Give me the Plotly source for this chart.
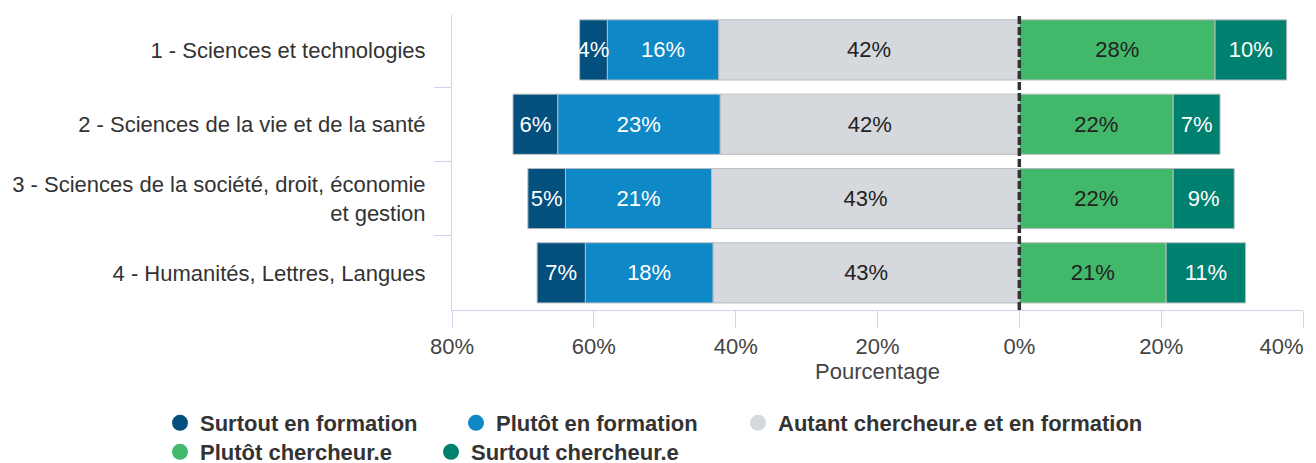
import plotly.graph_objects as go

categories = [
    "1 - Sciences et technologies",
    "2 - Sciences de la vie et de la santé",
    "3 - Sciences de la société, droit, économie<br>et gestion",
    "4 - Humanités, Lettres, Langues",
]
surtout_formation = [3.9, 6.3, 5.3, 6.8]
plutot_formation = [15.7, 22.9, 20.6, 18.0]
autant = [42.4, 42.2, 43.4, 43.2]
plutot_chercheur = [27.6, 21.7, 21.7, 20.7]
surtout_chercheur = [10.1, 6.6, 8.6, 11.2]

tick_vals = [-80, -60, -40, -20, 0, 20, 40]
tick_text = ["80%", "60%", "40%", "20%", "0%", "20%", "40%"]

names = ["Surtout en formation", "Plutôt en formation",
         "Autant chercheur.e et en formation", "Plutôt chercheur.e", "Surtout chercheur.e"]
colors = ["#034f7d", "#0f88c8", "#d5d9dd", "#42b86b", "#00806f"]
text_colors = ["#ffffff", "#ffffff", "#222222", "#222222", "#ffffff"]

FONT = "Liberation Sans, Arial, sans-serif"
W, H = 1316, 463

series = [
    (2, autant, -1),
    (1, plutot_formation, -1),
    (0, surtout_formation, -1),
    (3, plutot_chercheur, 1),
    (4, surtout_chercheur, 1),
]

fig = go.Figure()
for idx, vals, sign in series:
    fig.add_trace(go.Bar(
        y=categories,
        x=[sign * v for v in vals],
        orientation="h",
        name=names[idx],
        marker=dict(color=colors[idx], line=dict(color="#b8bcc0", width=1)),
        text=[f"{round(v)}%" for v in vals],
        textposition="inside",
        insidetextanchor="middle",
        textangle=0,
        textfont=dict(family=FONT, size=22, color=text_colors[idx]),
        showlegend=False,
        hoverinfo="skip",
    ))

# one legend per entry so spacing follows the reference
legend_ids = ["legend", "legend2", "legend3", "legend4", "legend5"]
legend_pos = [(160, 402), (456, 402), (738, 402), (160, 431), (431, 431)]
for i in range(5):
    fig.add_trace(go.Scatter(
        x=[None], y=[None], mode="markers", name=names[i],
        marker=dict(color=colors[i], size=16, symbol="circle"),
        legend=legend_ids[i],
    ))

fig.add_shape(type="line", xref="x", yref="paper", x0=0, x1=0, y0=0, y1=1,
              line=dict(color="#333333", width=3.5, dash="8px,3px"), layer="above")

legend_font = dict(family=FONT, size=22, color="#333333", weight="bold")
legends = {}
for lid, (lx, ly) in zip(legend_ids, legend_pos):
    legends[lid] = dict(
        orientation="h",
        xref="container", yref="container",
        x=lx / W, xanchor="left",
        y=1 - ly / H, yanchor="top",
        font=legend_font,
        itemwidth=30,
        bgcolor="rgba(0,0,0,0)",
    )

fig.update_layout(
    width=W, height=H,
    barmode="relative",
    bargap=0.19,
    plot_bgcolor="white",
    paper_bgcolor="white",
    margin=dict(l=452, r=13, t=15, b=153, autoexpand=False),
    font=dict(family=FONT, color="#333333", size=22),
    uniformtext=dict(mode="show", minsize=22),
    xaxis=dict(
        range=[-80, 40],
        tickvals=tick_vals,
        ticktext=tick_text[:-1] + [tick_text[-1] + "\u00a0" * 7],
        showgrid=False, zeroline=False,
        showline=True, linecolor="#ccd6eb", linewidth=1,
        ticks="outside", ticklen=17, tickcolor="#ccd6eb",
        tickfont=dict(size=22, color="#444444"),
        ticklabeloverflow="allow",
        automargin=False,
        title=dict(text="Pourcentage", font=dict(size=22, color="#444444"), standoff=3),
    ),
    yaxis=dict(
        categoryorder="array", categoryarray=categories,
        range=[3.5, -0.47],
        tickson="boundaries",
        showgrid=False, zeroline=False,
        showline=True, linecolor="#ccd6eb", linewidth=1,
        ticks="outside", ticklen=17, tickcolor="#ccd6eb",
        tickfont=dict(size=22, color="#333333"),
        ticklabelstandoff=21,
        automargin=False,
    ),
    **legends,
)

fig.write_html(
    "out.html",
    config={"displayModeBar": False},
    post_script="document.body.style.margin='0';document.body.style.overflow='hidden';",
)
